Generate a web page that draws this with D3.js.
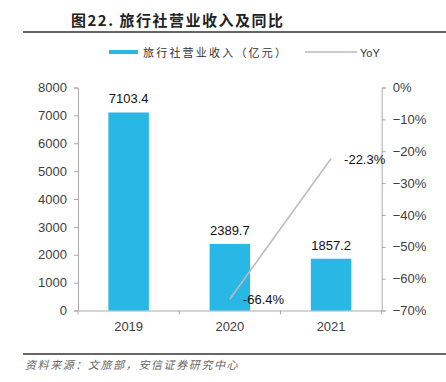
<!DOCTYPE html>
<html>
<head>
<meta charset="utf-8">
<script src="https://cdn.jsdelivr.net/npm/d3@7"></script>
<style>
body { margin: 0; background: #fff; }
svg text { font-family: "Liberation Sans", Arial, sans-serif; }
.cjk { font-family: "Noto Sans CJK SC", sans-serif; }
</style>
</head>
<body>
<script>
// 数据
var years = ["2019", "2020", "2021"];
var revenue = [7103.4, 2389.7, 1857.2];
var yoy = [null, -66.4, -22.3];
var leftTicks = [0, 1000, 2000, 3000, 4000, 5000, 6000, 7000, 8000];
var rightTicks = [0, -10, -20, -30, -40, -50, -60, -70];

var W = 446, H = 382;
var svg = d3.select("body").append("svg").attr("width", W).attr("height", H);

var plotL = 78, plotR = 381.7, plotT = 87.5, plotB = 310.5;
var x = d3.scaleBand().domain(years).range([plotL, plotR]).paddingInner(0.6).paddingOuter(0.3);
var yL = d3.scaleLinear().domain([0, 8000]).range([plotB, plotT]);
var yR = d3.scaleLinear().domain([-70, 0]).range([plotB, plotT]);

// 标题
svg.append("text").attr("class", "cjk").attr("x", 71).attr("y", 26)
	.attr("font-size", 15).attr("font-weight", "bold").attr("letter-spacing", 1.5).attr("fill", "#222")
	.text("图22. 旅行社营业收入及同比");
svg.append("line").attr("x1", 23).attr("x2", W).attr("y1", 32).attr("y2", 32)
	.attr("stroke", "#333").attr("stroke-width", 1.5);

// 图例
svg.append("rect").attr("x", 109).attr("y", 50).attr("width", 29).attr("height", 4).attr("fill", "#29b7e6");
svg.append("text").attr("class", "cjk").attr("x", 143).attr("y", 56.5)
	.attr("font-size", 11).attr("letter-spacing", 2.2).attr("fill", "#333").text("旅行社营业收入（亿元）");
svg.append("line").attr("x1", 305).attr("x2", 357).attr("y1", 52).attr("y2", 52)
	.attr("stroke", "#bbb").attr("stroke-width", 1.5);
svg.append("text").attr("x", 360).attr("y", 56.5)
	.attr("font-size", 11).attr("fill", "#333").text("YoY");

// 坐标轴
var axL = svg.append("g").attr("transform", "translate(" + plotL + ",0)")
	.call(d3.axisLeft(yL).tickValues(leftTicks).tickSize(4).tickPadding(7).tickFormat(d3.format("d")));
var axR = svg.append("g").attr("transform", "translate(" + plotR + ",0)")
	.call(d3.axisRight(yR).tickValues(rightTicks).tickSize(4).tickPadding(7)
		.tickFormat(function(d) { return (d < 0 ? "\u2212" + (-d) : d) + "%"; }));
var axX = svg.append("g").attr("transform", "translate(0," + plotB + ")")
	.call(d3.axisBottom(x).tickSize(0).tickPadding(11));
// x 轴分隔刻度
svg.append("g").selectAll("line").data(d3.range(years.length + 1)).enter().append("line")
	.attr("x1", function(i) { return plotL + i * x.step(); })
	.attr("x2", function(i) { return plotL + i * x.step(); })
	.attr("y1", plotB).attr("y2", plotB + 4).attr("stroke", "#aaa");
[axL, axR, axX].forEach(function(a) {
	a.selectAll("path, line").attr("stroke", "#aaa");
	a.selectAll("text").attr("font-size", 13).attr("fill", "#404040")
		.attr("font-family", "Liberation Sans, Arial, sans-serif");
});

// 柱
svg.append("g").selectAll("rect").data(revenue).enter().append("rect")
	.attr("x", function(d, i) { return x(years[i]); })
	.attr("width", x.bandwidth())
	.attr("y", function(d) { return yL(d); })
	.attr("height", function(d) { return yL(0) - yL(d); })
	.attr("fill", "#29b7e6");
svg.append("g").selectAll("text").data(revenue).enter().append("text")
	.attr("x", function(d, i) { return x(years[i]) + x.bandwidth() / 2; })
	.attr("y", function(d) { return yL(d) - 9; })
	.attr("text-anchor", "middle").attr("font-size", 13).attr("fill", "#111")
	.text(function(d) { return d.toFixed(1); });

// 同比线
var pts = yoy.map(function(v, i) { return { y: years[i], v: v }; }).filter(function(p) { return p.v !== null; });
var line = d3.line()
	.x(function(p) { return x(p.y) + x.bandwidth() / 2; })
	.y(function(p) { return yR(p.v); });
svg.append("path").datum(pts).attr("d", line).attr("fill", "none")
	.attr("stroke", "#bbb").attr("stroke-width", 1.5);
svg.append("g").selectAll("text").data(pts).enter().append("text")
	.attr("x", function(p) { return x(p.y) + x.bandwidth() / 2 + 13; })
	.attr("y", function(p) { return yR(p.v) + 5; })
	.attr("font-size", 13).attr("fill", "#111")
	.text(function(p) { return p.v.toFixed(1) + "%"; });

// 来源
svg.append("line").attr("x1", 23).attr("x2", W).attr("y1", 354).attr("y2", 354)
	.attr("stroke", "#333").attr("stroke-width", 1.5);
svg.append("text").attr("class", "cjk").attr("x", 25).attr("y", 369)
	.attr("font-size", 11).attr("font-style", "italic").attr("letter-spacing", 1.6).attr("fill", "#666")
	.text("资料来源：文旅部，安信证券研究中心");
</script>
</body>
</html>
